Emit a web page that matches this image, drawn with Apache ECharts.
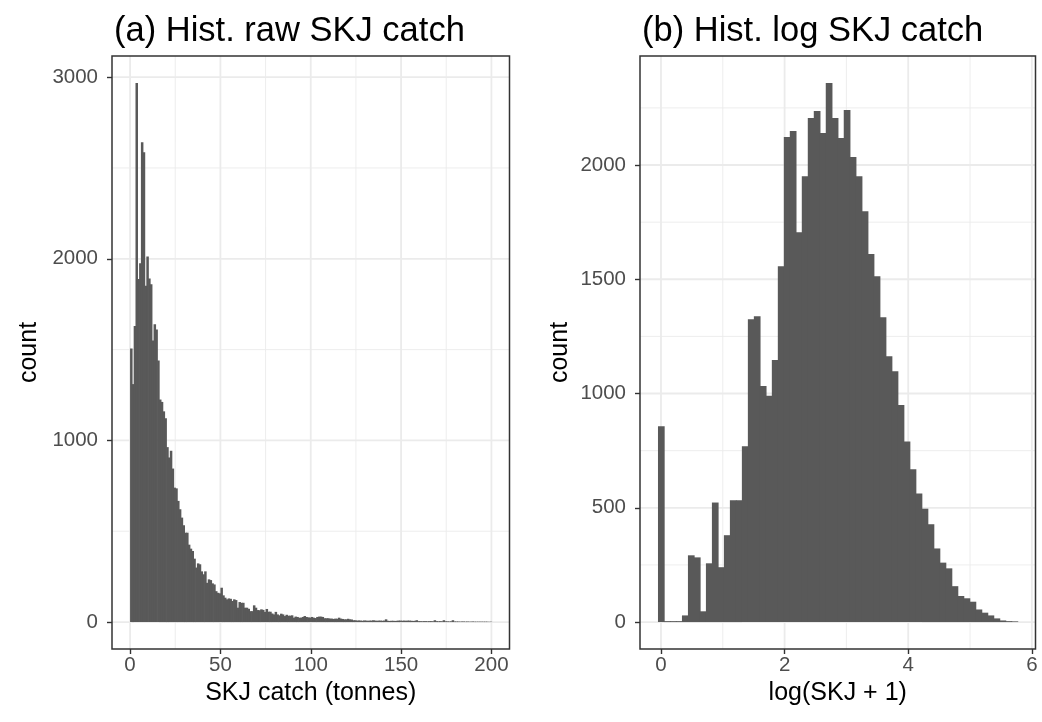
<!DOCTYPE html>
<html>
<head>
<meta charset="utf-8">
<script src="https://cdn.jsdelivr.net/npm/echarts@6/dist/echarts.min.js"></script>
<style>
  html, body { margin: 0; padding: 0; background: #ffffff; }
  #chart { width: 1042px; height: 722px; }
</style>
</head>
<body>
<div id="chart"></div>
<script>
// ---- (a) raw skipjack catch: 1-tonne bins starting at 0 ----
const rawBinStart = 0;
const rawBinWidth = 1;
const rawCounts = [
  1506, 1310, 1630, 2968, 1888, 1976, 2641, 2586, 1851, 2013,
  1892, 1860, 1550, 1640, 1610, 1440, 1225, 1212, 1160, 1122,
  963, 906, 943, 845, 740, 736, 667, 621, 575, 533,
  492, 492, 426, 404, 391, 349, 300, 323, 318, 279,
  263, 279, 216, 235, 231, 213, 207, 170, 161, 158,
  189, 147, 134, 125, 130, 128, 116, 125, 121, 79,
  110, 106, 106, 79, 79, 73, 60, 60, 92, 79,
  66, 65, 70, 67, 56, 72, 57, 57, 47, 42,
  56, 42, 37, 46, 42, 33, 40, 35, 35, 37,
  24, 30, 28, 24, 24, 28, 33, 28, 26, 24,
  28, 24, 22, 28, 30, 30, 28, 21, 21, 21,
  19, 19, 17, 19, 18, 24, 19, 17, 15, 15,
  18, 15, 14, 10, 10, 8, 9, 8, 7, 9,
  8, 7, 8, 8, 10, 8, 7, 8, 8, 7,
  8, 15, 7, 6, 7, 7, 6, 7, 8, 8,
  7, 8, 7, 8, 8, 7, 6, 7, 10, 5,
  5, 4, 5, 5, 4, 5, 5, 4, 10, 5,
  4, 5, 4, 10, 4, 4, 3, 4, 10, 3,
  3, 3, 2, 3, 3, 2, 3, 2, 2, 3,
  2, 2, 2, 2, 2, 2, 2, 2, 1, 2
];
const rawXTicks = [0, 50, 100, 150, 200];
const rawYTicks = [0, 1000, 2000, 3000];

// ---- (b) log(SKJ + 1): 60 bins centred on multiples of the bin width ----
const logMax = 5.72;
const logBins = 60;
const logCounts = [
  857, 4, 4, 4, 29, 292, 283, 47, 257, 523,
  240, 380, 533, 533, 769, 1325, 1338, 1033, 990, 1147,
  1557, 2122, 2149, 1706, 1951, 2206, 2236, 2140, 2359, 2206,
  2118, 2241, 2035, 1951, 1798, 1610, 1513, 1334, 1163, 1097,
  950, 790, 669, 563, 496, 428, 322, 260, 235, 157,
  114, 104, 89, 55, 41, 29, 16, 7, 4, 3
];
const logXTicks = [0, 2, 4, 6];
const logYTicks = [0, 500, 1000, 1500, 2000];

const FONT = '"Liberation Sans", Arial, Helvetica, sans-serif';
const BAR_FILL = '#595959';
const GRID_COLOR = '#EBEBEB';

// histogram rectangles as [left edge, right edge, count]
function rawBins() {
  return rawCounts.map((c, i) => [rawBinStart + i * rawBinWidth, rawBinStart + (i + 1) * rawBinWidth, c]);
}
function logBinsData() {
  const w = logMax / (logBins - 1);
  return logCounts.map((c, i) => [(i - 0.5) * w, (i + 0.5) * w, c]);
}

// 5% padding on each side of the data range
function padded(lo, hi) {
  const p = 0.05 * (hi - lo);
  return [lo - p, hi + p];
}
// minor breaks sit half-way between major breaks
function minorOf(ticks, lo, hi) {
  const step = ticks[1] - ticks[0];
  const out = [];
  for (let v = ticks[0] - step / 2; v <= hi; v += step) {
    if (v >= lo && ticks.indexOf(v) < 0) out.push(v);
  }
  return out;
}
// grid lines: [value, 0 = vertical / 1 = horizontal, 1 = major / 0 = minor]
function gridLineData(xt, yt, xr, yr) {
  const d = [];
  minorOf(xt, xr[0], xr[1]).forEach(v => d.push([v, 0, 0]));
  minorOf(yt, yr[0], yr[1]).forEach(v => d.push([v, 1, 0]));
  xt.forEach(v => d.push([v, 0, 1]));
  yt.forEach(v => d.push([v, 1, 1]));
  return d;
}

const rawData = rawBins();
const logData = logBinsData();
const rawXR = padded(rawData[0][0], rawData[rawData.length - 1][1]);
const rawYR = padded(0, Math.max(...rawCounts));
const logXR = padded(logData[0][0], logData[logData.length - 1][1]);
const logYR = padded(0, Math.max(...logCounts));

// filled bars; each one overlaps its right neighbour slightly so no seams show
function renderHist(params, api) {
  const c = api.value(2);
  if (!(c > 0)) return;
  const p0 = api.coord([api.value(0), c]);
  const p1 = api.coord([api.value(1), 0]);
  return {
    type: 'rect',
    shape: { x: p0[0], y: p0[1], width: p1[0] - p0[0] + 0.7, height: p1[1] - p0[1] },
    style: { fill: BAR_FILL }
  };
}

function renderGridLine(params, api) {
  const cs = params.coordSys;
  const v = api.value(0);
  const horiz = api.value(1) === 1;
  const major = api.value(2) === 1;
  let shape;
  if (horiz) {
    const y = api.coord([0, v])[1];
    shape = { x1: cs.x, y1: y, x2: cs.x + cs.width, y2: y };
  } else {
    const x = api.coord([v, 0])[0];
    shape = { x1: x, y1: cs.y, x2: x, y2: cs.y + cs.height };
  }
  return {
    type: 'line',
    shape: shape,
    style: { stroke: GRID_COLOR, lineWidth: major ? 1.8 : 0.9 }
  };
}

function xAxisCfg(idx, range, ticks, name) {
  return {
    type: 'value', gridIndex: idx, min: range[0], max: range[1],
    axisLine: { show: false, onZero: false },
    axisTick: { show: true, customValues: ticks, length: 5, lineStyle: { color: '#333333', width: 1.4 } },
    axisLabel: { customValues: ticks, color: '#4D4D4D', fontSize: 20.5, fontFamily: FONT, margin: 6,
                 formatter: v => String(v) },
    splitLine: { show: false },
    name: name, nameLocation: 'middle', nameGap: 31,
    nameTextStyle: { color: '#000000', fontSize: 25, fontFamily: FONT }
  };
}
function yAxisCfg(idx, range, ticks, gap) {
  return {
    type: 'value', gridIndex: idx, min: range[0], max: range[1],
    axisLine: { show: false, onZero: false },
    axisTick: { show: true, customValues: ticks, length: 5, lineStyle: { color: '#333333', width: 1.4 } },
    axisLabel: { customValues: ticks, color: '#4D4D4D', fontSize: 20.5, fontFamily: FONT, margin: 14,
                 formatter: v => String(v) },
    splitLine: { show: false },
    name: 'count', nameLocation: 'middle', nameGap: gap, nameRotate: 90,
    nameTextStyle: { color: '#000000', fontSize: 25, fontFamily: FONT }
  };
}

const chart = echarts.init(document.getElementById('chart'), null, { renderer: 'canvas' });
chart.setOption({
  backgroundColor: '#ffffff',
  animation: false,
  title: [
    { text: '(a) Hist. raw SKJ catch', left: 109, top: 9,
      textStyle: { color: '#000000', fontSize: 34.5, fontWeight: 'normal', fontFamily: FONT } },
    { text: '(b) Hist. log SKJ catch', left: 637, top: 9,
      textStyle: { color: '#000000', fontSize: 34.5, fontWeight: 'normal', fontFamily: FONT } }
  ],
  grid: [
    { left: 112, right: 532.5, top: 56, bottom: 73, show: true, z: 10,
      backgroundColor: 'transparent', borderColor: '#333333', borderWidth: 1.5 },
    { left: 640, right: 6.5, top: 56, bottom: 73, show: true, z: 10,
      backgroundColor: 'transparent', borderColor: '#333333', borderWidth: 1.5 }
  ],
  xAxis: [
    xAxisCfg(0, rawXR, rawXTicks, 'SKJ catch (tonnes)'),
    xAxisCfg(1, logXR, logXTicks, 'log(SKJ + 1)')
  ],
  yAxis: [
    yAxisCfg(0, rawYR, rawYTicks, 70),
    yAxisCfg(1, logYR, logYTicks, 67)
  ],
  series: [
    { type: 'custom', xAxisIndex: 0, yAxisIndex: 0, z: 1, silent: true, clip: true,
      renderItem: renderGridLine, data: gridLineData(rawXTicks, rawYTicks, rawXR, rawYR) },
    { type: 'custom', xAxisIndex: 1, yAxisIndex: 1, z: 1, silent: true, clip: true,
      renderItem: renderGridLine, data: gridLineData(logXTicks, logYTicks, logXR, logYR) },
    { type: 'custom', xAxisIndex: 0, yAxisIndex: 0, z: 2, silent: true, clip: true,
      renderItem: renderHist, data: rawData },
    { type: 'custom', xAxisIndex: 1, yAxisIndex: 1, z: 2, silent: true, clip: true,
      renderItem: renderHist, data: logData }
  ]
});
</script>
</body>
</html>
